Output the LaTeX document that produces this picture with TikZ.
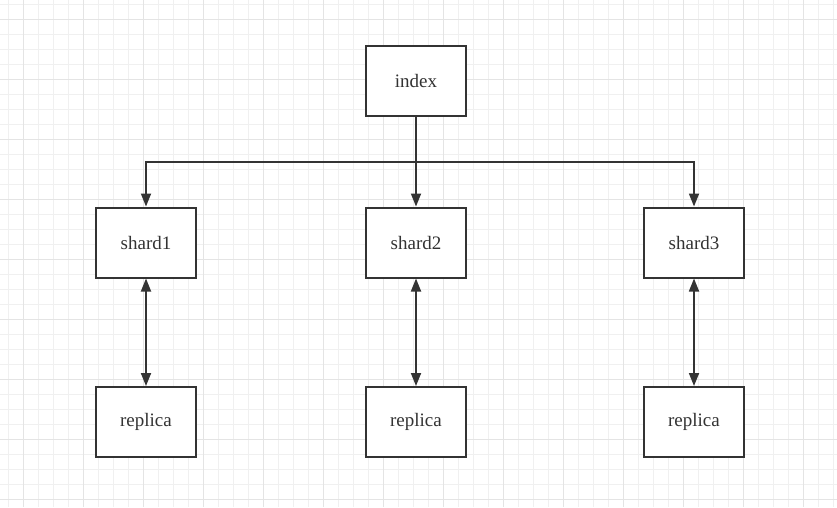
\documentclass[tikz,border=0pt]{standalone}
\usepackage{fontspec}
\setmainfont{Liberation Serif}
\usetikzlibrary{arrows.meta}
\definecolor{ink}{HTML}{333333}
\definecolor{gridminor}{HTML}{F0F0F0}
\definecolor{gridmajor}{HTML}{E4E4E4}
\tikzset{
  box/.style={draw=ink, line width=2pt, fill=white, minimum width=100pt, minimum height=70pt, inner sep=0pt, text=ink, font=\fontsize{19}{21}\selectfont},
  conn/.style={draw=ink, line width=1.8pt, -{Triangle[length=13pt,width=10pt]}},
  biconn/.style={draw=ink, line width=1.8pt, {Triangle[length=13pt,width=10pt]}-{Triangle[length=13pt,width=10pt]}},
}
\begin{document}
\begin{tikzpicture}[x=1pt,y=-1pt]
\useasboundingbox (0,0) rectangle (837,507);
\fill[white] (0,0) rectangle (837,507);
\foreach \x in {8.3,23.3,...,837} \draw[gridminor, line width=1pt] (\x,0) -- (\x,507);
\foreach \y in {4.3,19.3,...,507} \draw[gridminor, line width=1pt] (0,\y) -- (837,\y);
\foreach \x in {23.3,83.3,...,837} \draw[gridmajor, line width=1pt] (\x,0) -- (\x,507);
\foreach \y in {19.3,79.3,...,507} \draw[gridmajor, line width=1pt] (0,\y) -- (837,\y);

\node[box] (index) at (416,81) {index};
\node[box] (s1) at (146,242.5) {shard1};
\node[box] (s2) at (416,242.5) {shard2};
\node[box] (s3) at (694,242.5) {shard3};
\node[box] (r1) at (146,422) {replica};
\node[box] (r2) at (416,422) {replica};
\node[box] (r3) at (694,422) {replica};

\coordinate (j) at (416,162);
\draw[draw=ink, line width=1.8pt] (index.south) -- (j);
\draw[conn] (j) -| (s1.north);
\draw[conn] (j) -- (s2.north);
\draw[conn] (j) -| (s3.north);
\draw[biconn] (s1.south) -- (r1.north);
\draw[biconn] (s2.south) -- (r2.north);
\draw[biconn] (s3.south) -- (r3.north);
\end{tikzpicture}
\end{document}
